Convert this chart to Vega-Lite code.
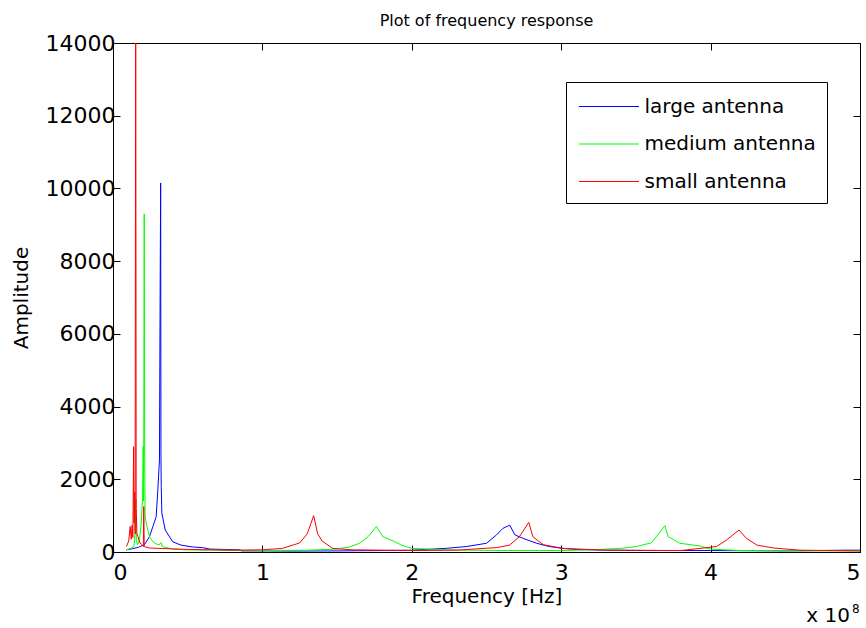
{
  "$schema": "https://vega.github.io/schema/vega-lite/v6.json",
  "width": 747,
  "height": 509,
  "autosize": {"type": "none"},
  "padding": {"left": 113, "top": 43, "right": 6, "bottom": 76},
  "background": "white",
  "title": {"text": "Plot of frequency response", "fontSize": 16, "font": "DejaVu Sans", "fontWeight": "normal", "color": "black", "offset": 3, "anchor": "middle"},
  "config": {
    "view": {"stroke": "black", "strokeWidth": 1},
    "axis": {"labelFont": "DejaVu Sans", "titleFont": "DejaVu Sans", "labelFontSize": 22, "titleFontSize": 20, "titleFontWeight": "normal", "labelColor": "black", "titleColor": "black", "domainColor": "black", "tickColor": "black", "grid": false, "tickSize": -7}
  },
  "data": {"values": [
    {"antenna": "large antenna", "freq": 0.09, "amplitude": 60},
    {"antenna": "large antenna", "freq": 0.13, "amplitude": 90},
    {"antenna": "large antenna", "freq": 0.17, "amplitude": 130},
    {"antenna": "large antenna", "freq": 0.21, "amplitude": 200},
    {"antenna": "large antenna", "freq": 0.244, "amplitude": 420},
    {"antenna": "large antenna", "freq": 0.267, "amplitude": 700},
    {"antenna": "large antenna", "freq": 0.289, "amplitude": 970},
    {"antenna": "large antenna", "freq": 0.3, "amplitude": 1700},
    {"antenna": "large antenna", "freq": 0.311, "amplitude": 2530},
    {"antenna": "large antenna", "freq": 0.316, "amplitude": 7600},
    {"antenna": "large antenna", "freq": 0.319, "amplitude": 10150},
    {"antenna": "large antenna", "freq": 0.321, "amplitude": 2600},
    {"antenna": "large antenna", "freq": 0.323, "amplitude": 1800},
    {"antenna": "large antenna", "freq": 0.327, "amplitude": 1070},
    {"antenna": "large antenna", "freq": 0.35, "amplitude": 600},
    {"antenna": "large antenna", "freq": 0.4, "amplitude": 280},
    {"antenna": "large antenna", "freq": 0.455, "amplitude": 190},
    {"antenna": "large antenna", "freq": 0.53, "amplitude": 140},
    {"antenna": "large antenna", "freq": 0.6, "amplitude": 120},
    {"antenna": "large antenna", "freq": 0.65, "amplitude": 80},
    {"antenna": "large antenna", "freq": 0.85, "amplitude": 60},
    {"antenna": "large antenna", "freq": 0.86, "amplitude": 30},
    {"antenna": "large antenna", "freq": 1.0, "amplitude": 30},
    {"antenna": "large antenna", "freq": 1.2, "amplitude": 25},
    {"antenna": "large antenna", "freq": 1.5, "amplitude": 30},
    {"antenna": "large antenna", "freq": 1.8, "amplitude": 40},
    {"antenna": "large antenna", "freq": 2.0, "amplitude": 50},
    {"antenna": "large antenna", "freq": 2.23, "amplitude": 100},
    {"antenna": "large antenna", "freq": 2.366, "amplitude": 150},
    {"antenna": "large antenna", "freq": 2.5, "amplitude": 240},
    {"antenna": "large antenna", "freq": 2.567, "amplitude": 470},
    {"antenna": "large antenna", "freq": 2.61, "amplitude": 650},
    {"antenna": "large antenna", "freq": 2.656, "amplitude": 740},
    {"antenna": "large antenna", "freq": 2.69, "amplitude": 470},
    {"antenna": "large antenna", "freq": 2.745, "amplitude": 375},
    {"antenna": "large antenna", "freq": 2.835, "amplitude": 240},
    {"antenna": "large antenna", "freq": 2.92, "amplitude": 150},
    {"antenna": "large antenna", "freq": 3.01, "amplitude": 100},
    {"antenna": "large antenna", "freq": 3.1, "amplitude": 70},
    {"antenna": "large antenna", "freq": 3.3, "amplitude": 50},
    {"antenna": "large antenna", "freq": 3.6, "amplitude": 40},
    {"antenna": "large antenna", "freq": 4.0, "amplitude": 40},
    {"antenna": "large antenna", "freq": 4.5, "amplitude": 30},
    {"antenna": "large antenna", "freq": 4.9, "amplitude": 50},
    {"antenna": "large antenna", "freq": 5.0, "amplitude": 50},
    {"antenna": "medium antenna", "freq": 0.09, "amplitude": 60},
    {"antenna": "medium antenna", "freq": 0.12, "amplitude": 100},
    {"antenna": "medium antenna", "freq": 0.14, "amplitude": 150},
    {"antenna": "medium antenna", "freq": 0.15, "amplitude": 600},
    {"antenna": "medium antenna", "freq": 0.153, "amplitude": 1450},
    {"antenna": "medium antenna", "freq": 0.156, "amplitude": 300},
    {"antenna": "medium antenna", "freq": 0.165, "amplitude": 200},
    {"antenna": "medium antenna", "freq": 0.177, "amplitude": 330},
    {"antenna": "medium antenna", "freq": 0.189, "amplitude": 800},
    {"antenna": "medium antenna", "freq": 0.198, "amplitude": 1500},
    {"antenna": "medium antenna", "freq": 0.202, "amplitude": 2900},
    {"antenna": "medium antenna", "freq": 0.205, "amplitude": 1400},
    {"antenna": "medium antenna", "freq": 0.209, "amplitude": 9300},
    {"antenna": "medium antenna", "freq": 0.212, "amplitude": 2800},
    {"antenna": "medium antenna", "freq": 0.215, "amplitude": 1000},
    {"antenna": "medium antenna", "freq": 0.222, "amplitude": 800},
    {"antenna": "medium antenna", "freq": 0.244, "amplitude": 420},
    {"antenna": "medium antenna", "freq": 0.267, "amplitude": 285},
    {"antenna": "medium antenna", "freq": 0.29, "amplitude": 220},
    {"antenna": "medium antenna", "freq": 0.31, "amplitude": 200},
    {"antenna": "medium antenna", "freq": 0.32, "amplitude": 260},
    {"antenna": "medium antenna", "freq": 0.33, "amplitude": 150},
    {"antenna": "medium antenna", "freq": 0.4, "amplitude": 80},
    {"antenna": "medium antenna", "freq": 0.5, "amplitude": 60},
    {"antenna": "medium antenna", "freq": 0.7, "amplitude": 50},
    {"antenna": "medium antenna", "freq": 1.0, "amplitude": 40},
    {"antenna": "medium antenna", "freq": 1.3, "amplitude": 50},
    {"antenna": "medium antenna", "freq": 1.5, "amplitude": 80},
    {"antenna": "medium antenna", "freq": 1.584, "amplitude": 140},
    {"antenna": "medium antenna", "freq": 1.65, "amplitude": 240},
    {"antenna": "medium antenna", "freq": 1.707, "amplitude": 420},
    {"antenna": "medium antenna", "freq": 1.763, "amplitude": 700},
    {"antenna": "medium antenna", "freq": 1.807, "amplitude": 420},
    {"antenna": "medium antenna", "freq": 1.885, "amplitude": 285},
    {"antenna": "medium antenna", "freq": 1.93, "amplitude": 190},
    {"antenna": "medium antenna", "freq": 2.0, "amplitude": 100},
    {"antenna": "medium antenna", "freq": 2.2, "amplitude": 60},
    {"antenna": "medium antenna", "freq": 2.6, "amplitude": 40},
    {"antenna": "medium antenna", "freq": 3.0, "amplitude": 40},
    {"antenna": "medium antenna", "freq": 3.2, "amplitude": 60},
    {"antenna": "medium antenna", "freq": 3.4, "amplitude": 100},
    {"antenna": "medium antenna", "freq": 3.504, "amplitude": 150},
    {"antenna": "medium antenna", "freq": 3.605, "amplitude": 255},
    {"antenna": "medium antenna", "freq": 3.694, "amplitude": 725},
    {"antenna": "medium antenna", "freq": 3.716, "amplitude": 420},
    {"antenna": "medium antenna", "freq": 3.795, "amplitude": 240},
    {"antenna": "medium antenna", "freq": 3.93, "amplitude": 165},
    {"antenna": "medium antenna", "freq": 3.995, "amplitude": 80},
    {"antenna": "medium antenna", "freq": 4.2, "amplitude": 40},
    {"antenna": "medium antenna", "freq": 4.6, "amplitude": 30},
    {"antenna": "medium antenna", "freq": 5.0, "amplitude": 30},
    {"antenna": "small antenna", "freq": 0.09, "amplitude": 150},
    {"antenna": "small antenna", "freq": 0.105, "amplitude": 300},
    {"antenna": "small antenna", "freq": 0.115, "amplitude": 700},
    {"antenna": "small antenna", "freq": 0.122, "amplitude": 350},
    {"antenna": "small antenna", "freq": 0.128, "amplitude": 740},
    {"antenna": "small antenna", "freq": 0.133, "amplitude": 400},
    {"antenna": "small antenna", "freq": 0.138, "amplitude": 2900},
    {"antenna": "small antenna", "freq": 0.141, "amplitude": 800},
    {"antenna": "small antenna", "freq": 0.145, "amplitude": 1650},
    {"antenna": "small antenna", "freq": 0.148, "amplitude": 500},
    {"antenna": "small antenna", "freq": 0.152, "amplitude": 16000},
    {"antenna": "small antenna", "freq": 0.155, "amplitude": 1200},
    {"antenna": "small antenna", "freq": 0.16, "amplitude": 500},
    {"antenna": "small antenna", "freq": 0.167, "amplitude": 420},
    {"antenna": "small antenna", "freq": 0.18, "amplitude": 250},
    {"antenna": "small antenna", "freq": 0.195, "amplitude": 200},
    {"antenna": "small antenna", "freq": 0.203, "amplitude": 150},
    {"antenna": "small antenna", "freq": 0.206, "amplitude": 1250},
    {"antenna": "small antenna", "freq": 0.209, "amplitude": 150},
    {"antenna": "small antenna", "freq": 0.244, "amplitude": 110},
    {"antenna": "small antenna", "freq": 0.3, "amplitude": 100},
    {"antenna": "small antenna", "freq": 0.5, "amplitude": 70},
    {"antenna": "small antenna", "freq": 0.8, "amplitude": 50},
    {"antenna": "small antenna", "freq": 1.0, "amplitude": 60},
    {"antenna": "small antenna", "freq": 1.135, "amplitude": 100},
    {"antenna": "small antenna", "freq": 1.25, "amplitude": 250},
    {"antenna": "small antenna", "freq": 1.3, "amplitude": 500},
    {"antenna": "small antenna", "freq": 1.343, "amplitude": 1000},
    {"antenna": "small antenna", "freq": 1.37, "amplitude": 500},
    {"antenna": "small antenna", "freq": 1.4, "amplitude": 300},
    {"antenna": "small antenna", "freq": 1.47, "amplitude": 100},
    {"antenna": "small antenna", "freq": 1.6, "amplitude": 60},
    {"antenna": "small antenna", "freq": 2.0, "amplitude": 40},
    {"antenna": "small antenna", "freq": 2.3, "amplitude": 50},
    {"antenna": "small antenna", "freq": 2.567, "amplitude": 120},
    {"antenna": "small antenna", "freq": 2.655, "amplitude": 190},
    {"antenna": "small antenna", "freq": 2.72, "amplitude": 420},
    {"antenna": "small antenna", "freq": 2.783, "amplitude": 815},
    {"antenna": "small antenna", "freq": 2.81, "amplitude": 420},
    {"antenna": "small antenna", "freq": 2.88, "amplitude": 200},
    {"antenna": "small antenna", "freq": 3.01, "amplitude": 100},
    {"antenna": "small antenna", "freq": 3.3, "amplitude": 50},
    {"antenna": "small antenna", "freq": 3.8, "amplitude": 40},
    {"antenna": "small antenna", "freq": 4.04, "amplitude": 150},
    {"antenna": "small antenna", "freq": 4.107, "amplitude": 330},
    {"antenna": "small antenna", "freq": 4.19, "amplitude": 605},
    {"antenna": "small antenna", "freq": 4.24, "amplitude": 375},
    {"antenna": "small antenna", "freq": 4.31, "amplitude": 190},
    {"antenna": "small antenna", "freq": 4.42, "amplitude": 110},
    {"antenna": "small antenna", "freq": 4.6, "amplitude": 50},
    {"antenna": "small antenna", "freq": 5.0, "amplitude": 30}
  ]},
  "layer": [
    {
      "mark": {"type": "line", "strokeWidth": 1, "clip": true},
      "encoding": {
        "x": {"field": "freq", "type": "quantitative", "scale": {"domain": [0, 5], "nice": false, "zero": false},
              "axis": {"values": [0, 1, 2, 3, 4, 5], "format": "d", "title": "Frequency [Hz]", "labelPadding": 17, "titlePadding": 3}},
        "y": {"field": "amplitude", "type": "quantitative", "scale": {"domain": [0, 14000], "nice": false},
              "axis": {"values": [0, 2000, 4000, 6000, 8000, 10000, 12000, 14000], "format": "d", "title": "Amplitude", "labelPadding": 5, "titlePadding": 14}},
        "color": {"field": "antenna", "type": "nominal",
                  "scale": {"domain": ["large antenna", "medium antenna", "small antenna"], "range": ["#0000ff", "#00ff00", "#ff0000"]},
                  "legend": {"orient": "none", "legendX": 453, "legendY": 39, "title": null, "strokeColor": "black", "fillColor": "white", "padding": 11,
                             "labelFont": "DejaVu Sans", "labelFontSize": 20, "labelColor": "black", "labelLimit": 400, "symbolType": "M-2.4,0H2.4", "symbolSize": 625,
                             "symbolStrokeWidth": 1.2, "rowPadding": 13.5, "symbolOffset": 18.5, "labelOffset": 22, "cornerRadius": 0}}
      }
    },
    {
      "mark": {"type": "line", "strokeOpacity": 0, "clip": true},
      "encoding": {
        "x": {"field": "freq", "type": "quantitative", "axis": {"orient": "top", "labels": false, "title": null, "values": [0, 1, 2, 3, 4, 5]}},
        "y": {"field": "amplitude", "type": "quantitative", "axis": {"orient": "right", "labels": false, "title": null, "values": [0, 2000, 4000, 6000, 8000, 10000, 12000, 14000]}}
      }
    },
    {
      "data": {"values": [{"label": "x 10"}]},
      "mark": {"type": "text", "align": "right", "baseline": "alphabetic", "dx": -10, "dy": 70, "fontSize": 20, "font": "DejaVu Sans", "fontWeight": "normal", "color": "black"},
      "encoding": {"text": {"field": "label"}, "x": {"datum": 5, "type": "quantitative", "axis": null}, "y": {"datum": 0, "type": "quantitative", "axis": null}}
    },
    {
      "data": {"values": [{"label": "8"}]},
      "mark": {"type": "text", "align": "left", "baseline": "alphabetic", "dx": -8, "dy": 61, "fontSize": 12, "font": "DejaVu Sans", "fontWeight": "normal", "color": "black"},
      "encoding": {"text": {"field": "label"}, "x": {"datum": 5, "type": "quantitative", "axis": null}, "y": {"datum": 0, "type": "quantitative", "axis": null}}
    }
  ],
  "resolve": {"axis": {"x": "independent", "y": "independent"}}
}
